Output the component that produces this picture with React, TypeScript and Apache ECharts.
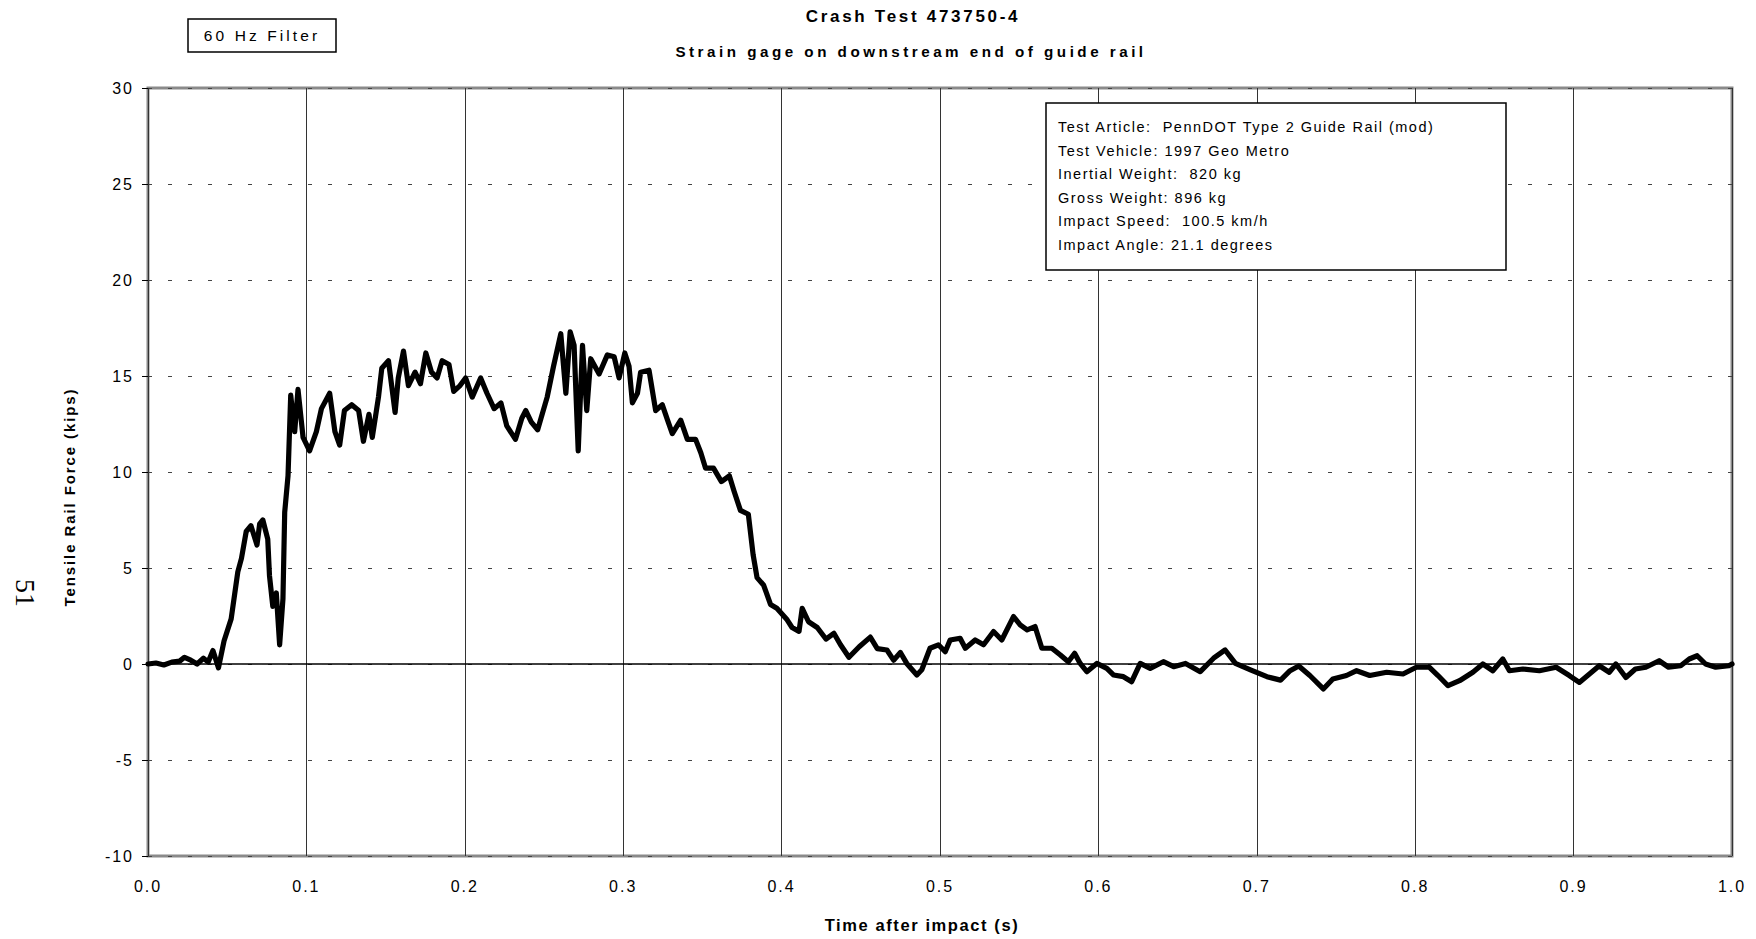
import React, { useEffect, useRef } from "react";
import * as echarts from "echarts";

// ---- Data ----
const titleText = "Crash Test 473750-4";
const subtitleText = "Strain gage on downstream end of guide rail";
const xAxisTitle = "Time after impact (s)";
const yAxisTitle = "Tensile Rail Force (kips)";
const filterLabel = "60 Hz Filter";
const pageNumber = "51";
const infoLines = [
  "Test Article:  PennDOT Type 2 Guide Rail (mod)",
  "Test Vehicle: 1997 Geo Metro",
  "Inertial Weight:  820 kg",
  "Gross Weight: 896 kg",
  "Impact Speed:  100.5 km/h",
  "Impact Angle: 21.1 degrees",
];
const xRange = [0, 1, 0.1];
const yRange = [-10, 30, 5];

const timeS = [
  0, 0.005, 0.01, 0.015, 0.02, 0.023, 0.027, 0.031, 0.035, 0.038, 0.041, 0.0445,
  0.048, 0.0525, 0.0567, 0.059, 0.062, 0.065, 0.0688, 0.0705, 0.0725, 0.0756,
  0.0767, 0.0788, 0.081, 0.0831, 0.0852, 0.0863, 0.0884, 0.0901, 0.0926, 0.0947,
  0.0979, 0.102, 0.1063, 0.1095, 0.1147, 0.118, 0.121, 0.124, 0.1286, 0.133,
  0.136, 0.1395, 0.1416, 0.1455, 0.1476, 0.1518, 0.156, 0.158, 0.1613, 0.1644,
  0.1686, 0.172, 0.1754, 0.179, 0.1825, 0.1857, 0.19, 0.193, 0.197, 0.2005,
  0.2047, 0.21, 0.214, 0.2185, 0.2228, 0.2265, 0.232, 0.236, 0.2385, 0.242,
  0.246, 0.252, 0.256, 0.2606, 0.2638, 0.2665, 0.269, 0.2716, 0.2743, 0.277,
  0.2795, 0.2848, 0.29, 0.2943, 0.2974, 0.301, 0.3037, 0.3058, 0.309, 0.311,
  0.3163, 0.3205, 0.3247, 0.328, 0.331, 0.3363, 0.3405, 0.3457, 0.349, 0.352,
  0.357, 0.362, 0.367, 0.37, 0.374, 0.379, 0.382, 0.3845, 0.3887, 0.393, 0.397,
  0.4035, 0.4066, 0.411, 0.413, 0.417, 0.4225, 0.428, 0.433, 0.4372, 0.4425,
  0.449, 0.456, 0.4604, 0.4665, 0.4707, 0.475, 0.479, 0.4854, 0.4885, 0.4937,
  0.499, 0.5033, 0.5064, 0.5127, 0.516, 0.5222, 0.5275, 0.5338, 0.539, 0.5464,
  0.5506, 0.555, 0.56, 0.5643, 0.5706, 0.576, 0.581, 0.585, 0.5885, 0.5927,
  0.599, 0.6053, 0.6095, 0.6158, 0.621, 0.6264, 0.6327, 0.641, 0.6475, 0.655,
  0.6643, 0.6727, 0.68, 0.6865, 0.696, 0.7064, 0.715, 0.721, 0.7265, 0.7335,
  0.742, 0.748, 0.7566, 0.763, 0.7713, 0.782, 0.7923, 0.8007, 0.809, 0.8144,
  0.8207, 0.828, 0.8364, 0.8427, 0.849, 0.8553, 0.8595, 0.868, 0.8784, 0.889,
  0.8973, 0.9036, 0.91, 0.9162, 0.9225, 0.9267, 0.933, 0.939, 0.9456, 0.954,
  0.96, 0.9676, 0.973, 0.978, 0.9833, 0.9897, 0.998, 1.0,
];

const forceKips = [
  0, 0.05, -0.05, 0.1, 0.15, 0.35, 0.2, 0.0, 0.3, 0.1, 0.7, -0.2,
  1.2, 2.35, 4.8, 5.5, 6.9, 7.2, 6.2, 7.3, 7.5, 6.5,
  4.6, 3.0, 3.7, 1.0, 3.4, 7.9, 9.8, 14.0, 12.1, 14.3,
  11.8, 11.1, 12.1, 13.3, 14.1, 12.1, 11.4, 13.2, 13.5, 13.2,
  11.6, 13.0, 11.8, 13.9, 15.4, 15.8, 13.1, 14.9, 16.3, 14.5,
  15.2, 14.6, 16.2, 15.2, 14.9, 15.8, 15.6, 14.2, 14.5, 14.9,
  13.9, 14.9, 14.1, 13.3, 13.6, 12.4, 11.7, 12.8, 13.2, 12.6,
  12.2, 13.9, 15.5, 17.2, 14.1, 17.3, 16.6, 11.1, 16.6, 13.2,
  15.9, 15.1, 16.1, 16.0, 14.9, 16.2, 15.5, 13.6, 14.1, 15.2,
  15.3, 13.2, 13.5, 12.7, 12.0, 12.7, 11.7, 11.7, 11.0, 10.2,
  10.2, 9.5, 9.8, 9.0, 8.0, 7.8, 5.7, 4.5, 4.1, 3.1, 2.9,
  2.3, 1.9, 1.7, 2.9, 2.2, 1.9, 1.3, 1.6, 1.0, 0.35,
  0.9, 1.4, 0.8, 0.73, 0.2, 0.6, 0.03, -0.57, -0.3, 0.82,
  1.0, 0.64, 1.25, 1.34, 0.82, 1.25, 1.0, 1.69, 1.25, 2.47,
  2.04, 1.78, 1.95, 0.82, 0.82, 0.47, 0.12, 0.56, 0.03, -0.4,
  0.03, -0.23, -0.57, -0.66, -0.92, 0.03, -0.23, 0.12, -0.14, 0.03,
  -0.4, 0.3, 0.73, 0.03, -0.31, -0.66, -0.84, -0.35, -0.1, -0.6,
  -1.3, -0.78, -0.6, -0.35, -0.6, -0.43, -0.52, -0.17, -0.17, -0.6,
  -1.13, -0.87, -0.43, 0, -0.35, 0.26, -0.35, -0.26, -0.35, -0.17,
  -0.6, -0.96, -0.52, -0.09, -0.43, 0, -0.7, -0.26, -0.17, 0.17,
  -0.17, -0.09, 0.26, 0.43, 0, -0.17, -0.09, 0,
];

const SANS = "'Liberation Sans', Arial, Helvetica, sans-serif";

export default function App() {
  const ref = useRef<HTMLDivElement>(null);

  useEffect(() => {
    if (!ref.current) return;
    const chart = echarts.init(ref.current, undefined, { renderer: "svg" });
    const seriesData = timeS.map((t, i) => [t, forceKips[i]]);

    const infoTexts = infoLines.map((line, i) => ({
      type: "text",
      x: 1058,
      y: 127 + i * 23.5,
      z: 101,
      style: {
        text: line,
        fontSize: 14.5,
        fontFamily: SANS,
        fill: "#000",
        textAlign: "left",
        textVerticalAlign: "middle",
      },
    }));

    chart.setOption({
      animation: false,
      backgroundColor: "#ffffff",
      grid: {
        left: 148,
        right: 24,
        top: 88,
        bottom: 83,
        show: true,
        borderColor: "#8a8a8a",
        borderWidth: 3,
        backgroundColor: "transparent",
      },
      xAxis: {
        type: "value",
        min: xRange[0],
        max: xRange[1],
        interval: xRange[2],
        axisLine: { show: false },
        axisTick: { show: false },
        axisLabel: {
          fontSize: 16,
          fontFamily: SANS,
          color: "#000",
          margin: 22,
          formatter: (v: number) => v.toFixed(1),
        },
        splitLine: { show: true, lineStyle: { color: "#333", width: 1, type: "solid" } },
      },
      yAxis: {
        type: "value",
        min: yRange[0],
        max: yRange[1],
        interval: yRange[2],
        axisLine: { show: false },
        axisTick: { show: true, length: 6, lineStyle: { color: "#000", width: 1 } },
        axisLabel: {
          fontSize: 16,
          fontFamily: SANS,
          color: "#000",
          margin: 14,
          formatter: (v: number) => String(v),
        },
        splitLine: {
          show: true,
          lineStyle: { color: "#444", width: 1, type: [4, 16] },
        },
      },
      series: [
        {
          type: "line",
          data: seriesData,
          showSymbol: false,
          symbol: "none",
          lineStyle: { color: "#000", width: 5.2, join: "round", cap: "round" },
          z: 5,
          markLine: {
            silent: true,
            symbol: "none",
            label: { show: false },
            lineStyle: { color: "#000", width: 1.5, type: "solid" },
            data: [{ yAxis: 0 }],
            z: 3,
          },
        },
      ],
      graphic: [
        {
          type: "text",
          x: 913,
          y: 16,
          style: {
            text: titleText,
            fontSize: 17,
            fontWeight: "bold",
            fontFamily: SANS,
            fill: "#000",
            textAlign: "center",
            textVerticalAlign: "middle",
          },
        },
        {
          type: "text",
          x: 911,
          y: 51,
          style: {
            text: subtitleText,
            fontSize: 15.2,
            fontWeight: "bold",
            fontFamily: SANS,
            fill: "#000",
            textAlign: "center",
            textVerticalAlign: "middle",
          },
        },
        {
          type: "text",
          x: 922,
          y: 925,
          style: {
            text: xAxisTitle,
            fontSize: 16.5,
            fontWeight: "bold",
            fontFamily: SANS,
            fill: "#000",
            textAlign: "center",
            textVerticalAlign: "middle",
          },
        },
        {
          type: "text",
          x: 69,
          y: 497,
          rotation: Math.PI / 2,
          style: {
            text: yAxisTitle,
            fontSize: 15,
            fontWeight: "bold",
            fontFamily: SANS,
            fill: "#000",
            textAlign: "center",
            textVerticalAlign: "middle",
          },
        },
        {
          type: "text",
          x: 25,
          y: 593,
          rotation: -Math.PI / 2,
          style: {
            text: pageNumber,
            fontSize: 28,
            fontFamily: "'Liberation Serif', 'DejaVu Serif', serif",
            fill: "#000",
            textAlign: "center",
            textVerticalAlign: "middle",
          },
        },
        {
          type: "rect",
          z: 100,
          shape: { x: 188, y: 19, width: 148, height: 33 },
          style: { fill: "#fff", stroke: "#000", lineWidth: 1.5 },
        },
        {
          type: "text",
          x: 262,
          y: 35.5,
          z: 101,
          style: {
            text: filterLabel,
            fontSize: 15.5,
            fontFamily: SANS,
            fill: "#000",
            textAlign: "center",
            textVerticalAlign: "middle",
          },
        },
        {
          type: "rect",
          z: 100,
          shape: { x: 1046, y: 103, width: 460, height: 167 },
          style: { fill: "#fff", stroke: "#000", lineWidth: 1.5 },
        },
        ...infoTexts,
      ],
    });

    return () => chart.dispose();
  }, []);

  return (
    <>
      <style>{`
        body { margin: 0; }
        #crash-chart text[style*="17px"] { letter-spacing: 2.7px; }
        #crash-chart text[style*="15.2px"] { letter-spacing: 3.5px; }
        #crash-chart text[style*="16.5px"] { letter-spacing: 1.6px; }
        #crash-chart text[style*="15px"] { letter-spacing: 1.9px; }
        #crash-chart text[style*="16px"] { letter-spacing: 2px; }
        #crash-chart text[style*="15.5px"] { letter-spacing: 3.1px; }
        #crash-chart text[style*="14.5px"] { letter-spacing: 1.5px; }
      `}</style>
      <div
        id="crash-chart"
        ref={ref}
        style={{ position: "fixed", left: 0, top: 0, width: 1756, height: 939, background: "#fff" }}
      />
    </>
  );
}
